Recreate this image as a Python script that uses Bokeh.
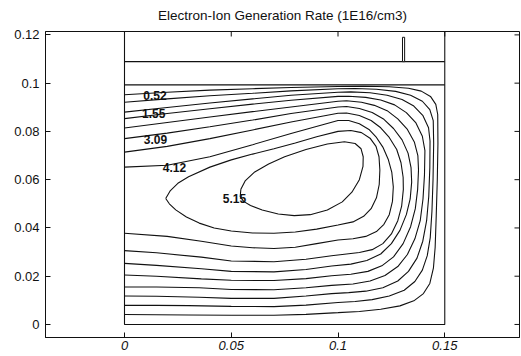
from bokeh.plotting import figure
from bokeh.models import LinearAxis, FixedTicker, PrintfTickFormatter, Range1d, ColumnDataSource
from bokeh.embed import file_html
from bokeh.resources import INLINE
from bokeh.core.properties import value

TITLE = "Electron-Ion Generation Rate (1E16/cm3)"
X_TICKS = [0, 0.05, 0.1, 0.15]
Y_TICKS = [0, 0.02, 0.04, 0.06, 0.08, 0.1, 0.12]
X_LIMITS = (-0.037, 0.185)
Y_LIMITS = (-0.0054, 0.1214)

# chamber geometry (data units)
WALL_X = [0, 0, 0.15, 0.15]
WALL_Y = [0.1214, 0, 0, 0.1214]
PLATE_Y = [0.0993, 0.1089]
PLATE_X0, PLATE_X1 = 0, 0.15
PIN_X = [0.1302, 0.1312]
PIN_Y = [0.1089, 0.1190]

# contour levels (1E16/cm3) and traced contour paths (x, y)
LEVELS = [0.52, 1.03, 1.55, 2.06, 2.58, 3.09, 3.61, 4.12, 4.64, 5.15]

C052 = [(0, 0.0952), (0.02, 0.0962), (0.04, 0.0971), (0.06, 0.0977), (0.078, 0.0982), (0.10, 0.0986),
        (0.112, 0.0987), (0.124, 0.0985), (0.133, 0.0979), (0.139, 0.0967), (0.1433, 0.0945),
        (0.1458, 0.0912), (0.1467, 0.0870), (0.1468, 0.0750), (0.1465, 0.0600), (0.1460, 0.0450),
        (0.1455, 0.0320), (0.1447, 0.0235), (0.1430, 0.0170), (0.1400, 0.0128), (0.1355, 0.0098),
        (0.1290, 0.0077), (0.1200, 0.0063), (0.1100, 0.0054), (0.1000, 0.0049), (0.0850, 0.0042),
        (0.0700, 0.0038), (0.0500, 0.0038), (0.0300, 0.0039), (0.0150, 0.0040), (0, 0.0041)]
C103 = [(0, 0.0921), (0.02, 0.0935), (0.04, 0.0948), (0.06, 0.0958), (0.078, 0.0968), (0.10, 0.0977),
        (0.108, 0.0978), (0.118, 0.0975), (0.127, 0.0966), (0.134, 0.0950), (0.1395, 0.0925),
        (0.1430, 0.0890), (0.1446, 0.0845), (0.1448, 0.0750), (0.1445, 0.0600), (0.1440, 0.0470),
        (0.1432, 0.0360), (0.1418, 0.0285), (0.1395, 0.0225), (0.1360, 0.0178), (0.1310, 0.0142),
        (0.1240, 0.0118), (0.1160, 0.0103), (0.1080, 0.0095), (0.1000, 0.0091), (0.0850, 0.0080),
        (0.0700, 0.0074), (0.0500, 0.0075), (0.0300, 0.0078), (0.0150, 0.0079), (0, 0.0079)]
C155 = [(0, 0.0880), (0.02, 0.0899), (0.04, 0.0918), (0.06, 0.0935), (0.078, 0.0950), (0.10, 0.0962),
        (0.106, 0.0964), (0.115, 0.0960), (0.123, 0.0950), (0.130, 0.0932), (0.1355, 0.0905),
        (0.1398, 0.0865), (0.1424, 0.0815), (0.1431, 0.0760), (0.1430, 0.0650), (0.1425, 0.0530),
        (0.1415, 0.0430), (0.1397, 0.0345), (0.1370, 0.0275), (0.1330, 0.0220), (0.1280, 0.0180),
        (0.1210, 0.0152), (0.1130, 0.0138), (0.1050, 0.0132), (0.0970, 0.0128), (0.0850, 0.0118),
        (0.0700, 0.0108), (0.0500, 0.0108), (0.0350, 0.0113), (0.0150, 0.0117), (0, 0.0118)]
C206 = [(0, 0.0853), (0.02, 0.0874), (0.04, 0.0894), (0.06, 0.0913), (0.078, 0.0929), (0.10, 0.0945),
        (0.105, 0.0946), (0.113, 0.0941), (0.120, 0.0930), (0.1265, 0.0910), (0.132, 0.0878),
        (0.1365, 0.0835), (0.1395, 0.0780), (0.1407, 0.0720), (0.1405, 0.0620), (0.1398, 0.0520),
        (0.1385, 0.0430), (0.1360, 0.0355), (0.1325, 0.0290), (0.1280, 0.0240), (0.1220, 0.0203),
        (0.1150, 0.0180), (0.1070, 0.0168), (0.0970, 0.0162), (0.0850, 0.0152), (0.0700, 0.0144),
        (0.0500, 0.0145), (0.0350, 0.0152), (0.0150, 0.0155), (0, 0.0155)]
C258 = [(0, 0.0814), (0.02, 0.0837), (0.04, 0.0860), (0.06, 0.0882), (0.078, 0.0901), (0.10, 0.0925),
        (0.104, 0.0927), (0.111, 0.0921), (0.117, 0.0908), (0.123, 0.0886), (0.128, 0.0852),
        (0.1325, 0.0808), (0.1358, 0.0755), (0.1374, 0.0700), (0.1377, 0.0640), (0.1373, 0.0560),
        (0.1362, 0.0480), (0.1340, 0.0405), (0.1305, 0.0335), (0.1260, 0.0280), (0.1205, 0.0243),
        (0.1140, 0.0220), (0.1060, 0.0208), (0.0970, 0.0202), (0.0850, 0.0190), (0.0700, 0.0182),
        (0.0500, 0.0183), (0.0360, 0.0189), (0.0150, 0.0200), (0, 0.0205)]
C309 = [(0, 0.0770), (0.02, 0.0793), (0.04, 0.0819), (0.06, 0.0847), (0.078, 0.0874), (0.10, 0.0901),
        (0.104, 0.0903), (0.110, 0.0895), (0.116, 0.0878), (0.1215, 0.0850), (0.126, 0.0812),
        (0.130, 0.0765), (0.1328, 0.0710), (0.1342, 0.0650), (0.1345, 0.0590), (0.1338, 0.0520),
        (0.1320, 0.0455), (0.1290, 0.0390), (0.1250, 0.0335), (0.1200, 0.0292), (0.1135, 0.0265),
        (0.1060, 0.0250), (0.0970, 0.0242), (0.0850, 0.0228), (0.0700, 0.0218), (0.0500, 0.0220),
        (0.0360, 0.0231), (0.0150, 0.0245), (0, 0.0253)]
C361 = [(0, 0.0714), (0.02, 0.0738), (0.04, 0.0770), (0.06, 0.0806), (0.078, 0.0839), (0.10, 0.0875),
        (0.104, 0.0876), (0.110, 0.0866), (0.1155, 0.0845), (0.120, 0.0815), (0.124, 0.0775),
        (0.1275, 0.0725), (0.1295, 0.0670), (0.1305, 0.0610), (0.1306, 0.0560), (0.1298, 0.0490),
        (0.1280, 0.0430), (0.1250, 0.0375), (0.1210, 0.0335), (0.1160, 0.0310), (0.1100, 0.0298),
        (0.1040, 0.0292), (0.0970, 0.0285), (0.0850, 0.0270), (0.0700, 0.0260), (0.0500, 0.0263),
        (0.0360, 0.0279), (0.0150, 0.0297), (0, 0.0306)]
C412 = [(0, 0.0652), (0.02, 0.0660), (0.04, 0.0695), (0.06, 0.0745), (0.078, 0.0791), (0.10, 0.0845),
        (0.105, 0.0845), (0.110, 0.0832), (0.1145, 0.0808), (0.118, 0.0775), (0.121, 0.0735),
        (0.1235, 0.0685), (0.1252, 0.0630), (0.1259, 0.0570), (0.1255, 0.0510), (0.1240, 0.0455),
        (0.1215, 0.0415), (0.1180, 0.0385), (0.1130, 0.0365), (0.1070, 0.0355), (0.1000, 0.0350),
        (0.0900, 0.0335), (0.0800, 0.0320), (0.0700, 0.0315), (0.0600, 0.0318), (0.0500, 0.0325),
        (0.0360, 0.0345), (0.0200, 0.0365), (0, 0.0378)]
C464 = [(0.0193, 0.0522), (0.0215, 0.0555), (0.025, 0.0585), (0.030, 0.0612), (0.040, 0.0652),
        (0.050, 0.0682), (0.060, 0.0706), (0.070, 0.0728), (0.080, 0.0752), (0.090, 0.0778),
        (0.100, 0.0800), (0.106, 0.0804), (0.111, 0.0795), (0.1150, 0.0772), (0.1178, 0.0738),
        (0.1192, 0.0695), (0.1196, 0.0640), (0.1193, 0.0580), (0.1180, 0.0525), (0.1155, 0.0480),
        (0.1120, 0.0448), (0.1070, 0.0425), (0.1000, 0.0412), (0.0900, 0.0395), (0.0800, 0.0383),
        (0.0700, 0.0378), (0.0600, 0.0379), (0.0500, 0.0387), (0.0420, 0.0400), (0.0350, 0.0420),
        (0.0290, 0.0445), (0.0240, 0.0475), (0.0210, 0.0500), (0.0193, 0.0522)]
C515 = [(0.0545, 0.0560), (0.0565, 0.0595), (0.0610, 0.0632), (0.0675, 0.0665), (0.0750, 0.0695),
        (0.0850, 0.0725), (0.0950, 0.0748), (0.1030, 0.0757), (0.1080, 0.0750), (0.1108, 0.0728),
        (0.1118, 0.0695), (0.1117, 0.0655), (0.1100, 0.0600), (0.1065, 0.0548), (0.1020, 0.0508),
        (0.0950, 0.0474), (0.0870, 0.0455), (0.0795, 0.0451), (0.0720, 0.0458), (0.0645, 0.0474),
        (0.0590, 0.0493), (0.0558, 0.0510), (0.0542, 0.0530), (0.0545, 0.0560)]
CONTOURS = [C052, C103, C155, C206, C258, C309, C361, C412, C464, C515]

LABEL_TEXT = ["0.52", "1.55", "3.09", "4.12", "5.15"]
LABEL_X = [0.0143, 0.0137, 0.0145, 0.0234, 0.0515]
LABEL_Y = [0.0949, 0.0876, 0.0766, 0.0652, 0.0522]

FONT = "Liberation Sans"
INK = "#111111"
TICK_DX = 5 / 2135.0   # 5 px inward tick, in x data units
TICK_DY = 5 / 2413.0   # 5 px inward tick, in y data units

p = figure(width=521, height=356, frame_width=474, frame_height=306,
           x_range=Range1d(*X_LIMITS), y_range=Range1d(*Y_LIMITS),
           output_backend="svg", toolbar_location=None,
           min_border_left=45, min_border_right=2, min_border_top=31, min_border_bottom=19,
           x_axis_type=None, y_axis_type=None)
p.background_fill_color = "white"
p.border_fill_color = "white"
p.outline_line_color = INK
p.outline_line_width = 1
p.xgrid.visible = False
p.ygrid.visible = False

p.title.text = TITLE
p.title.align = "center"
p.title.vertical_align = "top"
p.title.text_font = FONT
p.title.text_font_size = "13.5px"
p.title.text_font_style = "normal"
p.title.text_color = INK
p.title.standoff = 14


def style_axis(ax, ticks, italic=False):
    ax.ticker = FixedTicker(ticks=ticks, minor_ticks=[])
    ax.formatter = PrintfTickFormatter(format="%g")
    ax.major_tick_in = 5
    ax.major_tick_out = 0
    ax.minor_tick_in = 0
    ax.minor_tick_out = 0
    ax.axis_line_color = INK
    ax.major_tick_line_color = INK
    ax.major_label_text_font = FONT
    ax.major_label_text_color = INK
    ax.major_label_text_font_size = "13px"
    ax.major_label_text_font_style = "italic" if italic else "normal"


bottom = LinearAxis()
style_axis(bottom, X_TICKS, italic=True)
bottom.major_label_standoff = 3
p.add_layout(bottom, "below")
left = LinearAxis()
style_axis(left, Y_TICKS)
left.major_label_standoff = 6
p.add_layout(left, "left")

# inward ticks on the top and right edges of the box
y_top, x_right = Y_LIMITS[1], X_LIMITS[1]
p.segment(x0=X_TICKS, y0=[y_top] * len(X_TICKS), x1=X_TICKS, y1=[y_top - TICK_DY] * len(X_TICKS),
          line_color=INK, line_width=1)
p.segment(x0=[x_right] * len(Y_TICKS), y0=Y_TICKS, x1=[x_right - TICK_DX] * len(Y_TICKS), y1=Y_TICKS,
          line_color=INK, line_width=1)

# geometry
p.line(WALL_X, WALL_Y, line_color=INK, line_width=1.1)
for yv in PLATE_Y:
    p.line([PLATE_X0, PLATE_X1], [yv, yv], line_color=INK, line_width=1.1)
p.quad(left=PIN_X[0], right=PIN_X[1], bottom=PIN_Y[0], top=PIN_Y[1],
       fill_color="white", line_color=INK, line_width=1)

# contours
src = ColumnDataSource(data=dict(
    xs=[[pt[0] for pt in c] for c in CONTOURS],
    ys=[[pt[1] for pt in c] for c in CONTOURS],
    level=LEVELS))
p.multi_line(xs="xs", ys="ys", source=src, line_color=INK, line_width=1.1)

# contour labels
p.text(x=LABEL_X, y=LABEL_Y, text=LABEL_TEXT, text_align="center", text_baseline="middle",
       text_font=value(FONT), text_font_size=value("12px"), text_font_style="bold", text_color=INK)

open("out.html", "w").write(file_html(p, INLINE))
